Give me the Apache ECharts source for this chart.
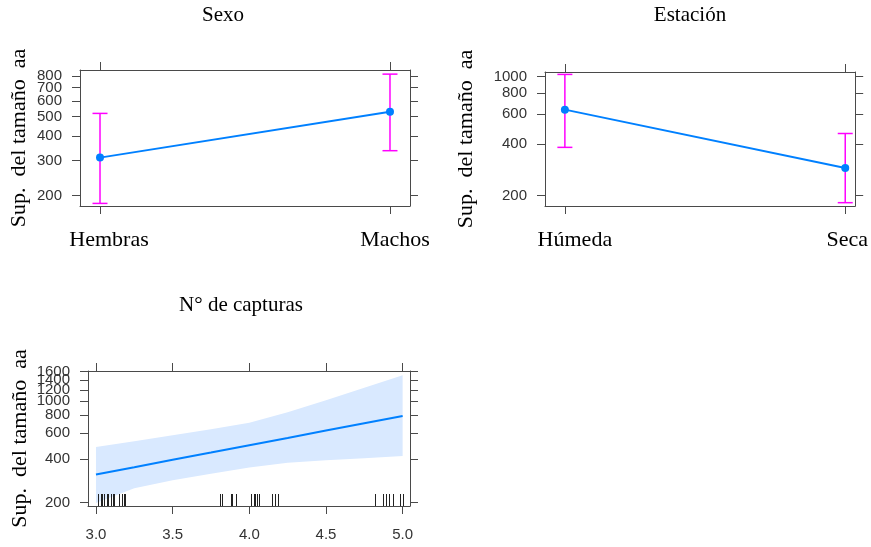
<!DOCTYPE html>
<html>
<head>
<meta charset="utf-8">
<script src="https://cdn.jsdelivr.net/npm/echarts@6/dist/echarts.min.js"></script>
<style>html,body{margin:0;padding:0;background:#fff}#c{width:871px;height:547px}</style>
</head>
<body>
<div id="c"></div>
<script>
// ---- data ----
const sexoCats = ['Hembras', 'Machos'];
const sexoFit = [311, 529];
const sexoLower = [183, 337];
const sexoUpper = [519, 818];
const sexoYTicks = [200, 300, 400, 500, 600, 700, 800];

const estCats = ['Húmeda', 'Seca'];
const estFit = [639, 291];
const estLower = [384, 182];
const estUpper = [1028, 463];
const estYTicks = [200, 400, 600, 800, 1000];

const capX = [3.0, 3.25, 3.5, 3.75, 4.0, 4.25, 4.5, 4.75, 5.0];
const capFit = [312, 350, 394, 442, 497, 558, 627, 704, 791];
const capLower = [198, 251, 285, 316, 348, 376, 391, 404, 419];
const capUpper = [483, 529, 582, 641, 710, 839, 1015, 1238, 1510];
const capXTicks = [3.0, 3.5, 4.0, 4.5, 5.0];
const capYTicks = [200, 400, 600, 800, 1000, 1200, 1400, 1600];
const rugX = [3.01, 3.03, 3.04, 3.05, 3.07, 3.08, 3.10, 3.11, 3.12, 3.15, 3.17, 3.18, 3.19,
  3.81, 3.82, 3.88, 3.89, 3.91, 4.01, 4.03, 4.04, 4.05, 4.06, 4.15, 4.17, 4.19,
  4.82, 4.87, 4.89, 4.91, 4.94, 4.98, 5.00];

const titles = ['Sexo', 'Estación', 'N° de capturas'];
const yName = 'Sup.  del tamaño  aa';

// ---- styles ----
const axisColor = '#4a4a4a';
const tickFont = {fontFamily: 'Liberation Sans', fontSize: 15, color: '#333'};
const serif = 'Liberation Serif';
const lineBlue = '#0080ff';
const barColor = '#ff00ff';

function xAxes(grid, min, max, ticks, labelOpts) {
  return [
    {type: 'value', gridIndex: grid, position: 'bottom', min, max,
     axisLine: {show: true, onZero: false, lineStyle: {color: axisColor}},
     axisTick: {show: true, length: 8, customValues: ticks, lineStyle: {color: axisColor}},
     axisLabel: Object.assign({customValues: ticks, hideOverlap: false, showMinLabel: true, showMaxLabel: true}, labelOpts),
     splitLine: {show: false}},
    {type: 'value', gridIndex: grid, position: 'top', min, max,
     axisLine: {show: true, onZero: false, lineStyle: {color: axisColor}},
     axisTick: {show: true, length: 8, customValues: ticks, lineStyle: {color: axisColor}},
     axisLabel: {show: false}, splitLine: {show: false}}
  ];
}
// labels split into interleaved groups so that overlapping labels are all drawn
function yAxes(grid, min, max, ticks, gap) {
  const groupA = ticks.filter((t, i) => i % 2 === 0);
  const groupB = ticks.filter((t, i) => i % 2 === 1);
  const lbl = vals => Object.assign({customValues: vals, margin: 18, hideOverlap: false,
       showMinLabel: true, showMaxLabel: true, formatter: v => String(Math.round(v))}, tickFont);
  return [
    {type: 'log', gridIndex: grid, position: 'left', min, max,
     axisLine: {show: true, onZero: false, lineStyle: {color: axisColor}},
     axisTick: {show: true, length: 8, customValues: ticks, lineStyle: {color: axisColor}},
     axisLabel: lbl(groupA),
     splitLine: {show: false}, minorTick: {show: false},
     name: yName, nameLocation: 'middle', nameRotate: 90, nameGap: gap,
     nameTextStyle: {fontFamily: serif, fontSize: 22, color: '#000'}},
    {type: 'log', gridIndex: grid, position: 'right', min, max,
     axisLine: {show: true, onZero: false, lineStyle: {color: axisColor}},
     axisTick: {show: true, length: 8, customValues: ticks, lineStyle: {color: axisColor}},
     axisLabel: {show: false}, splitLine: {show: false}},
    {type: 'log', gridIndex: grid, position: 'left', min, max,
     axisLine: {show: false, onZero: false}, axisTick: {show: false},
     axisLabel: lbl(groupB), splitLine: {show: false}}
  ];
}
const catRich = {
  c0: {fontFamily: serif, fontSize: 22, color: '#000', padding: [0, 0, 0, 18]},
  c1: {fontFamily: serif, fontSize: 22, color: '#000', padding: [0, 0, 0, 10]},
  c2: {fontFamily: serif, fontSize: 22, color: '#000', padding: [0, 0, 0, 20]},
  c3: {fontFamily: serif, fontSize: 22, color: '#000', padding: [0, 0, 0, 4]}
};
function catLabelOpts(cats, offset) {
  return {margin: 23, fontFamily: serif, fontSize: 22, color: '#000',
    formatter: v => { const i = Math.round(v); return '{c' + (i + offset) + '|' + cats[i] + '}'; },
    rich: catRich};
}

function errorBars(xi, yi, lower, upper) {
  return {
    type: 'custom', xAxisIndex: xi, yAxisIndex: yi, z: 1,
    data: lower.map((l, i) => [i, l, upper[i]]),
    encode: {x: 0, y: [1, 2]},
    renderItem: function (params, api) {
      const lo = api.coord([api.value(0), api.value(1)]);
      const hi = api.coord([api.value(0), api.value(2)]);
      const w = 7.5;
      const st = {stroke: barColor, lineWidth: 1.5};
      return {type: 'group', children: [
        {type: 'line', shape: {x1: lo[0], y1: lo[1], x2: hi[0], y2: hi[1]}, style: st},
        {type: 'line', shape: {x1: lo[0] - w, y1: lo[1], x2: lo[0] + w, y2: lo[1]}, style: st},
        {type: 'line', shape: {x1: hi[0] - w, y1: hi[1], x2: hi[0] + w, y2: hi[1]}, style: st}
      ]};
    }
  };
}
function pointLine(xi, yi, vals) {
  return {
    type: 'line', xAxisIndex: xi, yAxisIndex: yi, z: 3,
    data: vals.map((v, i) => [i, v]),
    symbol: 'circle', symbolSize: 8, showSymbol: true,
    itemStyle: {color: lineBlue}, lineStyle: {color: lineBlue, width: 2}
  };
}

const option = {
  animation: false,
  grid: [
    {left: 80, top: 70, width: 330, height: 136},
    {left: 545, top: 72, width: 312, height: 134},
    {left: 88, top: 371, width: 322, height: 135}
  ],
  xAxis: [
    ...xAxes(0, -0.069, 1.069, [0, 1], catLabelOpts(sexoCats, 0)),
    ...xAxes(1, -0.0709, 1.0355, [0, 1], catLabelOpts(estCats, 2)),
    ...xAxes(2, 2.948, 5.048, capXTicks, Object.assign({margin: 21, formatter: v => v.toFixed(1)}, tickFont))
  ],
  yAxis: [
    ...yAxes(0, 177.6, 858, sexoYTicks, 50),
    ...yAxes(1, 174, 1062, estYTicks, 68),
    ...yAxes(2, 189, 1617, capYTicks, 57)
  ],
  graphic: [
    {type: 'text', x: 223, y: 15, style: {text: titles[0], font: '21px "Liberation Serif"', fill: '#000', align: 'center', verticalAlign: 'middle'}},
    {type: 'text', x: 690, y: 15, style: {text: titles[1], font: '21px "Liberation Serif"', fill: '#000', align: 'center', verticalAlign: 'middle'}},
    {type: 'text', x: 241, y: 305, style: {text: titles[2], font: '21px "Liberation Serif"', fill: '#000', align: 'center', verticalAlign: 'middle'}}
  ],
  series: [
    errorBars(0, 0, sexoLower, sexoUpper),
    pointLine(0, 0, sexoFit),
    errorBars(2, 3, estLower, estUpper),
    pointLine(2, 3, estFit),
    {
      type: 'custom', xAxisIndex: 4, yAxisIndex: 6, z: 1,
      data: [[capX[0], capFit[0]]],
      encode: {x: 0, y: 1},
      renderItem: function (params, api) {
        const pts = [];
        for (let i = 0; i < capX.length; i++) pts.push(api.coord([capX[i], capUpper[i]]));
        for (let i = capX.length - 1; i >= 0; i--) pts.push(api.coord([capX[i], capLower[i]]));
        return {type: 'polygon', shape: {points: pts}, style: {fill: '#d9e9ff', stroke: null}};
      }
    },
    {
      type: 'custom', xAxisIndex: 4, yAxisIndex: 6, z: 2,
      data: rugX.map(v => [v]),
      encode: {x: 0},
      renderItem: function (params, api) {
        const cs = params.coordSys;
        const bottom = cs.y + cs.height;
        const x = Math.round(api.coord([api.value(0), 300])[0]) + 0.5;
        return {type: 'line', shape: {x1: x, y1: bottom, x2: x, y2: bottom - 12}, style: {stroke: '#222', lineWidth: 1}};
      }
    },
    {
      type: 'line', xAxisIndex: 4, yAxisIndex: 6, z: 3,
      data: capX.map((x, i) => [x, capFit[i]]),
      showSymbol: false, symbol: 'none',
      lineStyle: {color: lineBlue, width: 2}
    }
  ]
};
const chart = echarts.init(document.getElementById('c'), null, {renderer: 'canvas'});
chart.setOption(option);
</script>
</body>
</html>
